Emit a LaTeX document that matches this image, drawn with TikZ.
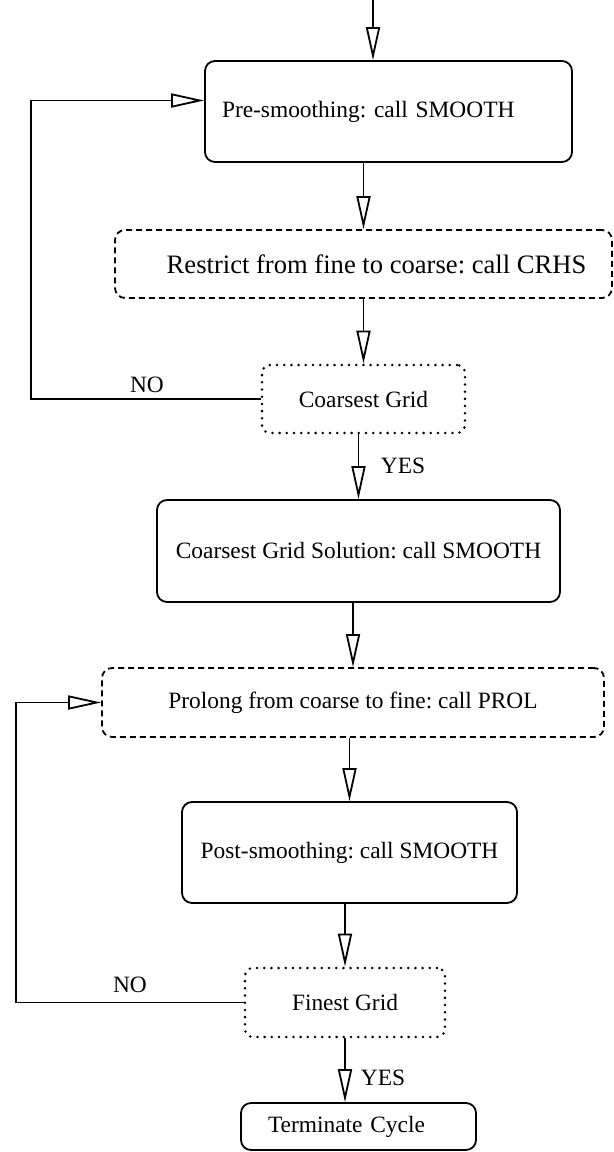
\documentclass[tikz,border=0pt]{standalone}
\usepackage{fontspec}
\setmainfont{Liberation Serif}
\usetikzlibrary{arrows.meta}
\frenchspacing

\begin{document}
\begin{tikzpicture}[x=0.5pt, y=-0.5pt, line width=0.9pt,
  font=\fontsize{11.7}{14}\selectfont,
  solidbox/.style={draw, rounded corners=5pt, inner sep=0pt},
  dashbox/.style={draw, dash pattern=on 3pt off 2pt, rounded corners=5pt, inner sep=0pt},
  dotbox/.style={draw, line cap=round, line width=1.4pt, dash pattern=on 0pt off 3.6pt, rounded corners=4pt, inner sep=0pt},
  flow/.style={-{Triangle[open, length=16.5pt, width=7pt]}},
  lbl/.style={inner sep=0pt}]

  \useasboundingbox (0,0) rectangle (614,1152);

  % ── boxes of the cycle ───────────────────────────────────────────────────
  \node[solidbox, text width=166.5pt, inner xsep=8.5pt, align=left, minimum height=50.5pt]
    (pre) at (388.5,111.5) {Pre-smoothing: call SMOOTH};
  \node[dashbox, minimum width=248.5pt, minimum height=34pt, font=\fontsize{13.3}{16}\selectfont]
    (restrict) at (363.5,264) {\hspace{13pt}Restrict from fine to coarse: call CRHS};
  \node[dotbox, minimum width=101.5pt, minimum height=34pt]
    (coarsest) at (363.5,399) {Coarsest Grid};
  \node[solidbox, minimum width=201.5pt, minimum height=51pt]
    (solve) at (358.5,551) {Coarsest Grid Solution: call SMOOTH};
  \node[dashbox, minimum width=251pt, minimum height=34.5pt]
    (prolong) at (353,702.5) {Prolong from coarse to fine: call PROL};
  \node[solidbox, minimum width=167.5pt, minimum height=50.5pt]
    (post) at (349.5,852.5) {Post-smoothing: call SMOOTH};
  \node[dotbox, minimum width=100pt, minimum height=34.5pt]
    (finest) at (345,1002.5) {Finest Grid};
  \node[solidbox, text width=90.5pt, inner xsep=13.5pt, align=left, minimum height=23.5pt]
    (stop) at (358.5,1126.5) {Terminate Cycle};

  % ── downward flow ────────────────────────────────────────────────────────
  \coordinate (entry) at (373,0);
  \draw[flow] (entry) -- (entry |- pre.north);
  \draw[flow] (pre.south -| restrict.north) -- (restrict.north);
  \draw[flow] (restrict.south -| restrict.north) -- (restrict.north |- coarsest.north);
  \draw[flow] (coarsest.south -| solve.north) -- (solve.north);
  \draw[flow] (solve.south -| prolong.north) -- (prolong.north);
  \draw[flow] (prolong.south -| post.north) -- (post.north);
  \draw[flow] (post.south -| finest.north) -- (finest.north);
  \draw[flow] (finest.south) -- (finest.south |- stop.north);

  % ── loops back ───────────────────────────────────────────────────────────
  \coordinate (turnA) at (31,400);
  \coordinate (turnB) at (16,1003);
  \draw[flow] (coarsest.west) -- (coarsest.west -| turnA) |- ([yshift=5.5pt]pre.west);
  \draw[flow] (finest.west) -- (finest.west -| turnB) |- (prolong.west);

  % ── branch labels ────────────────────────────────────────────────────────
  \node[lbl] (noA) at (147,385) {NO};
  \node[lbl, anchor=west] (yesA) at (380,466) {YES};
  \node[lbl] (noB) at (130,985) {NO};
  \node[lbl, anchor=west] (yesB) at (360,1078) {YES};

\end{tikzpicture}
\end{document}
